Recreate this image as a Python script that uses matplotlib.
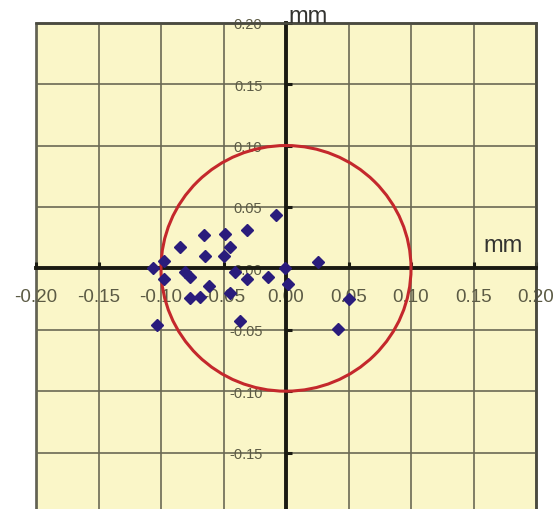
import numpy as np
import matplotlib
matplotlib.use('Agg')
import matplotlib.pyplot as plt
from matplotlib.patches import Circle

# measured deviations (mm)
x_dev = [-0.0080, -0.0660, -0.0487, -0.0314, -0.0846, -0.0447, -0.0646, -0.0500,
         -0.0979, -0.1064, -0.0974, -0.0806, -0.0771, -0.0620, -0.0407, -0.0314,
         -0.0141, -0.0008, 0.0019, 0.0258, -0.0771, -0.0686, -0.0447, -0.1032,
         -0.0367, 0.0418, 0.0503]
y_dev = [0.0433, 0.0274, 0.0282, 0.0310, 0.0173, 0.0173, 0.0099, 0.0104,
         0.0063, 0.0000, -0.0088, -0.0033, -0.0074, -0.0142, -0.0033, -0.0088,
         -0.0074, 0.0000, -0.0129, 0.0049, -0.0238, -0.0230, -0.0197, -0.0458,
         -0.0430, -0.0493, -0.0247]
tolerance = 0.10
ticks = [-0.20, -0.15, -0.10, -0.05, 0.00, 0.05, 0.10, 0.15, 0.20]
tick_labels = ['%.2f' % t for t in ticks]
unit = 'mm'

plt.rcParams['font.family'] = ['Liberation Sans', 'DejaVu Sans']

fig = plt.figure(figsize=(5.53, 5.10), dpi=100)
ax = fig.add_axes([0.0651, -0.0098, 0.9042, 0.9633])
ax.set_facecolor('#faf6c8')
ax.patch.set_edgecolor('#4a4a40')
ax.patch.set_linewidth(1.8)

ax.set_xlim(-0.20, 0.20)
ax.set_ylim(-0.20, 0.20)

# axes crossing at the origin
for side in ['left', 'bottom']:
    ax.spines[side].set_position('zero')
    ax.spines[side].set_linewidth(2.8)
    ax.spines[side].set_color('#1a1a12')
for side in ['top', 'right']:
    ax.spines[side].set_linewidth(1.8)
    ax.spines[side].set_color('#4a4a40')

ax.set_xticks(ticks)
ax.set_xticklabels(tick_labels)
ax.set_yticks(ticks)
ax.set_yticklabels(tick_labels)
ax.tick_params(axis='both', direction='in', length=4, width=2.2,
               color='#1a1a12', labelcolor='#5c5b45')
ax.tick_params(axis='x', pad=14, labelsize=13.5)
ax.tick_params(axis='y', pad=17, labelsize=10.5)
ax.grid(True, color='#6a6954', linewidth=1.2)
ax.set_axisbelow(True)

circle = Circle((0, 0), tolerance, fill=False, edgecolor='#c4282c',
                linewidth=2.2, zorder=3)
ax.add_patch(circle)

ax.plot(x_dev, y_dev, linestyle='none', marker='D', markersize=6,
        color='#2a1c7c', zorder=4)

ax.text(0.0016, 0.2002, unit, fontsize=17, color='#333330',
        ha='left', va='baseline', clip_on=False)
ax.text(0.1896, 0.0138, unit, fontsize=17, color='#333330',
        ha='right', va='baseline')

fig.savefig('out.png', dpi=100)
